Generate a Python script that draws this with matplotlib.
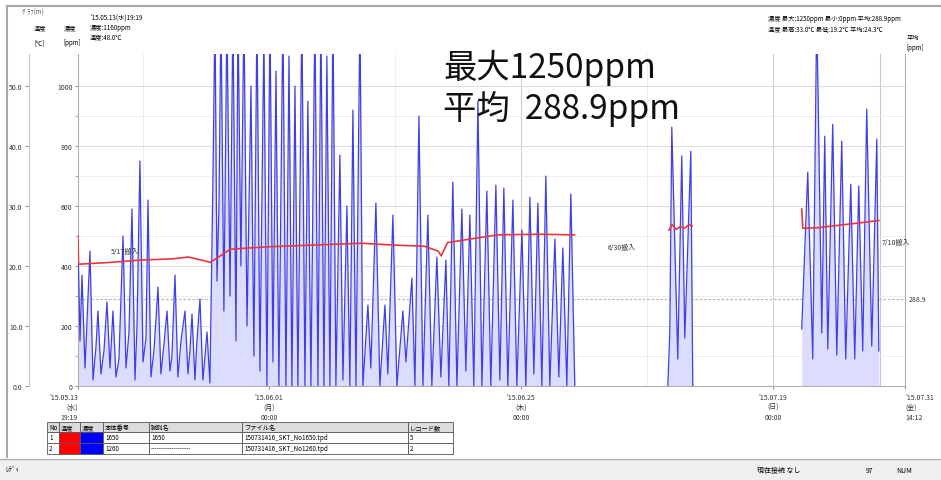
import matplotlib
matplotlib.use('Agg')
import matplotlib.pyplot as plt
import matplotlib.dates as mdates
from matplotlib.patches import Rectangle
from datetime import datetime, timedelta

plt.rcParams['font.family'] = ['Noto Sans CJK JP', 'DejaVu Sans']

start = datetime(2015, 5, 13, 19, 19)
end = datetime(2015, 7, 31, 14, 12)

# CO2 concentration [ppm], times in days since start (peaks / troughs)
co2_days_1 = [0.00, 0.19, 0.38, 0.67, 1.14, 1.43, 1.71, 1.90, 2.19, 2.48,
              2.76, 3.05, 3.33, 3.62, 3.90, 4.29, 4.57, 4.86, 5.14, 5.43,
              5.62, 5.90, 6.19, 6.48, 6.67, 6.95, 7.24, 7.62, 7.90, 8.19,
              8.48, 8.76, 8.95, 9.24, 9.52, 9.81, 10.19, 10.48, 10.67, 10.86,
              11.14, 11.33, 11.62, 11.90, 12.29, 12.57,
              12.86, 13.05, 13.24, 13.43, 13.62, 13.90, 14.19, 14.48, 14.76, 15.05,
              15.24, 15.52, 15.81, 16.10, 16.48, 16.76, 17.05, 17.33, 17.71, 18.00,
              18.29, 18.57, 18.86, 19.14, 19.52, 19.81, 20.10, 20.38, 20.67, 20.95,
              21.33, 21.62, 21.90, 22.19, 22.57, 22.86, 23.14, 23.43, 23.71, 24.00,
              24.29, 24.57, 24.95, 25.24, 25.62, 25.90, 26.19, 26.48, 26.86, 27.14,
              27.62, 27.90, 28.38, 28.76, 29.24, 29.52, 30.00, 30.38, 30.95, 31.24,
              31.81, 32.10, 32.48, 32.86, 33.33, 33.71, 34.19, 34.57, 35.05, 35.33,
              35.71, 36.10, 36.57, 36.95, 37.33, 37.71, 38.10, 38.48, 38.95, 39.33,
              39.81, 40.19, 40.57, 40.95, 41.43, 41.81, 42.29, 42.67, 43.05, 43.43,
              43.81, 44.19, 44.57, 44.95, 45.43, 45.81, 46.19, 46.57, 46.95, 47.33]
co2_ppm_1 = [480, 150, 370, 60, 450, 20, 130, 250, 40, 120,
             280, 60, 250, 30, 90, 500, 60, 180, 590, 20,
             200, 750, 80, 160, 620, 30, 120, 330, 40, 140,
             250, 50, 100, 370, 30, 150, 250, 40, 120, 240,
             20, 150, 290, 20, 180, 10,
             700, 1250, 350, 600, 1250, 250, 1250, 300, 1250, 150,
             1250, 400, 1250, 200, 1000, 100, 1250, 50, 1180, 0,
             1250, 80, 1050, 0, 1250, 0, 1100, 0, 1000, 0,
             1250, 0, 950, 0, 1250, 0, 1250, 0, 1100, 0,
             1250, 0, 770, 20, 600, 0, 920, 0, 1250, 0,
             270, 60, 610, 0, 270, 40, 570, 0, 250, 80,
             360, 0, 900, 0, 570, 0, 430, 30, 420, 0,
             680, 0, 590, 50, 570, 0, 950, 0, 650, 0,
             670, 20, 660, 0, 620, 0, 520, 0, 630, 40,
             610, 0, 700, 0, 490, 30, 460, 0, 640, 0]
co2_days_2 = [56.19, 56.38, 56.57, 57.14, 57.52, 57.81, 58.38, 58.57]
co2_ppm_2 = [0, 180, 863, 90, 767, 160, 783, 0]
co2_days_3 = [68.95, 69.52, 70.00, 70.38, 70.86, 71.14, 71.43, 71.90, 72.29, 72.76,
              73.14, 73.62, 74.00, 74.38, 74.76, 75.14, 75.62, 76.10, 76.29]
co2_ppm_3 = [190, 713, 90, 1250, 177, 833, 123, 873, 103, 817,
             90, 673, 90, 667, 117, 923, 133, 823, 117]

# temperature [deg C]
temp_days_1 = [0.0, 0.05, 3, 6, 9, 10.5, 12, 12.6, 13.3, 14.5, 18,
               24, 27, 30, 33, 34.3, 34.6, 35.2, 37, 40, 44, 47.3]
temp_c_1 = [25.0, 20.3, 20.6, 21.0, 21.2, 21.5, 20.9, 20.6, 21.4, 22.8, 23.2,
            23.6, 23.8, 23.5, 23.3, 22.5, 21.7, 23.9, 24.4, 25.2, 25.3, 25.2]
temp_days_2 = [56.3, 56.6, 57.0, 57.4, 57.8, 58.2, 58.5]
temp_c_2 = [26.0, 26.9, 26.1, 26.6, 26.3, 26.9, 26.7]
temp_days_3 = [68.95, 69.05, 70.5, 72, 73.5, 75, 76.29]
temp_c_3 = [29.5, 26.3, 26.4, 26.7, 27.0, 27.3, 27.6]

co2_mean = 288.9
co2_ticks = [0, 200, 400, 600, 800, 1000]
temp_ticks = [0, 10, 20, 30, 40, 50]

tick_dates = [start, datetime(2015, 6, 1), datetime(2015, 6, 25), datetime(2015, 7, 19), end]
tick_labels = ["'15.05.13\n(水)\n19:19", "'15.06.01\n(月)\n00:00", "'15.06.25\n(木)\n00:00",
               "'15.07.19\n(日)\n00:00", "'15.07.31\n(金)\n14:12"]

notes = [(3.1, 22.5, "5/17搬入"), (50.5, 23.2, "6/30搬入"), (76.6, 24.0, "7/10搬入")]

table_header = ["No", "温度", "濃度", "本体番号", "識別名", "ファイル名", "レコード数"]
table_rows = [["1", "", "", "1650", "1650", "150731416_SKT_No1650.tpd", "5"],
              ["2", "", "", "1260", "-------------------", "150731416_SKT_No1260.tpd", "2"]]


def to_dates(days):
    return [start + timedelta(days=d) for d in days]


W, H = 941, 481
fig = plt.figure(figsize=(W / 100, H / 100), dpi=100)

# pixel helper for axes placement
def box(x0, y0, x1, y1):
    return [x0 / W, 1 - y1 / H, (x1 - x0) / W, (y1 - y0) / H]

ax = fig.add_axes(box(78, 55, 905, 387))
ymax = 1107
ax.set_ylim(0, ymax)
ax.set_xlim(start, end)

for d, v in [(co2_days_1, co2_ppm_1), (co2_days_2, co2_ppm_2), (co2_days_3, co2_ppm_3)]:
    t = to_dates(d)
    ax.fill_between(t, 0, v, color='#dcdcff', lw=0, zorder=2)
    ax.plot(t, v, color='#4040e2', lw=0.9, zorder=3)

ax.set_yticks(co2_ticks)
ax.set_yticks(range(100, 1100, 200), minor=True)
ax.set_yticklabels([str(v) for v in co2_ticks], fontsize=5, color='#333333')
ax.tick_params(axis='y', which='both', length=2, pad=2, color='#999999')
ax.grid(axis='y', which='major', color='#dcdcdc', lw=0.8)
ax.grid(axis='y', which='minor', color='#ececec', lw=0.6)

ax.set_xticks(mdates.date2num(tick_dates))
ax.set_xticklabels(tick_labels, fontsize=5, color='#333333', linespacing=1.35)
ax.tick_params(axis='x', length=2, pad=3, color='#999999')
labels = ax.get_xticklabels()
labels[0].set_horizontalalignment('right')
labels[-1].set_horizontalalignment('left')
for d in tick_dates[1:4]:
    ax.axvline(d, color='#d0d0d0', lw=0.8, zorder=1)
for d in [datetime(2015, 5, 20), datetime(2015, 6, 13), datetime(2015, 7, 7)]:
    ax.axvline(d, color='#ececec', lw=0.7, zorder=1)
ax.axvline(datetime(2015, 7, 29, 5), color='#c8c8c8', lw=0.8, zorder=1)

ax.axhline(co2_mean, color='#b8b8b0', lw=0.9, ls=(0, (2, 1.5)), zorder=1)
ax.text(1.005, co2_mean, f"{co2_mean:.1f}", transform=ax.get_yaxis_transform(),
        fontsize=5, va='center', ha='left', color='#333333')

for s in ['left', 'bottom', 'right']:
    ax.spines[s].set_color('#b0b0b0')
    ax.spines[s].set_linewidth(0.8)
ax.spines['top'].set_visible(False)

# temperature axis on the far left
ax2 = ax.twinx()
ax2.set_ylim(0, ymax / 20)
ax2.set_xlim(start, end)
ax2.yaxis.set_ticks_position('left')
ax2.spines['left'].set_visible(True)
ax2.spines['left'].set_position(('outward', 35))
ax2.spines['left'].set_color('#c8c8c8')
for s in ['right', 'top', 'bottom']:
    ax2.spines[s].set_visible(False)
ax2.set_yticks(temp_ticks)
ax2.set_yticklabels([f"{v:.1f}" for v in temp_ticks], fontsize=5, color='#333333')
ax2.tick_params(axis='y', length=3, pad=2, color='#999999')

for d, v in [(temp_days_1, temp_c_1), (temp_days_2, temp_c_2), (temp_days_3, temp_c_3)]:
    ax2.plot(to_dates(d), v, color='#e8373a', lw=1.2, zorder=4)

for d, v, s in notes:
    ax2.text(start + timedelta(days=d), v, s, fontsize=5, color='#333333', va='center', ha='left')

# overlay in pixel coordinates for window texts, table, status bar
ov = fig.add_axes([0, 0, 1, 1])
ov.set_xlim(0, W)
ov.set_ylim(H, 0)
ov.axis('off')
ov.patch.set_alpha(0)

ov.plot([7, W], [7, 7], color='#a8a8a8', lw=1.5)
ov.plot([7, 7], [7, 458], color='#a8a8a8', lw=1.5)

ov.text(22, 13, "ｸﾞﾗﾌ(m)", fontsize=4.5, color='#555555', va='center')
ov.text(34, 28, "温度", fontsize=4.5, va='center')
ov.text(64, 28, "濃度", fontsize=4.5, va='center')
ov.text(34, 43, "[℃]", fontsize=4.5, va='center')
ov.text(63, 43, "[ppm]", fontsize=4.5, va='center')
ov.text(90, 18, "'15.05.13(水)19:19", fontsize=4.5, va='center')
ov.text(90, 28, "濃度:1160ppm", fontsize=4.5, va='center')
ov.text(90, 37, "温度:48.0℃", fontsize=4.5, va='center')

ov.text(768, 19, "濃度 最大:1250ppm 最小:0ppm 平均:288.9ppm", fontsize=4.5, va='center')
ov.text(768, 29, "温度 最高:33.0℃ 最低:19.2℃ 平均:24.3℃", fontsize=4.5, va='center')
ov.text(907, 38, "平均", fontsize=4.5, va='center')
ov.text(906, 48, "[ppm]", fontsize=4.5, va='center')

ov.text(443, 68, "最大1250ppm", fontsize=24, va='center', ha='left', color='#111111')
ov.text(443, 109, "平均  288.9ppm", fontsize=24, va='center', ha='left', color='#111111')

# legend table
col_x = [47, 59, 80, 103, 149, 242, 408, 453]
row_y = [423, 433, 444, 455]
for i, name in enumerate(table_header):
    ov.add_patch(Rectangle((col_x[i], row_y[0]), col_x[i + 1] - col_x[i], row_y[1] - row_y[0],
                           facecolor='#dcdcdc', edgecolor='#555555', lw=0.6))
    ov.text(col_x[i] + 2, (row_y[0] + row_y[1]) / 2, name, fontsize=4.5, va='center')
for r, row in enumerate(table_rows):
    for i, val in enumerate(row):
        fc = 'white'
        if i == 1:
            fc = '#ff0000'
        elif i == 2:
            fc = '#0000ff'
        ov.add_patch(Rectangle((col_x[i], row_y[r + 1]), col_x[i + 1] - col_x[i],
                               row_y[r + 2] - row_y[r + 1], facecolor=fc, edgecolor='#555555', lw=0.6))
        if val:
            ov.text(col_x[i] + 2, (row_y[r + 1] + row_y[r + 2]) / 2, val, fontsize=4.5, va='center')

# status bar
ov.add_patch(Rectangle((0, 461), W, 20, facecolor='#f0f0f0', edgecolor='none'))
ov.plot([0, W], [460, 460], color='#b0b0b0', lw=1)
ov.text(5, 471, "ﾚﾃﾞｨ", fontsize=5, va='center')
ov.text(757, 471, "現在接続 なし", fontsize=5, va='center')
ov.text(866, 471, "97", fontsize=5, va='center')
ov.text(896, 471, "NUM", fontsize=5, va='center')

fig.savefig('out.png', dpi=100)
